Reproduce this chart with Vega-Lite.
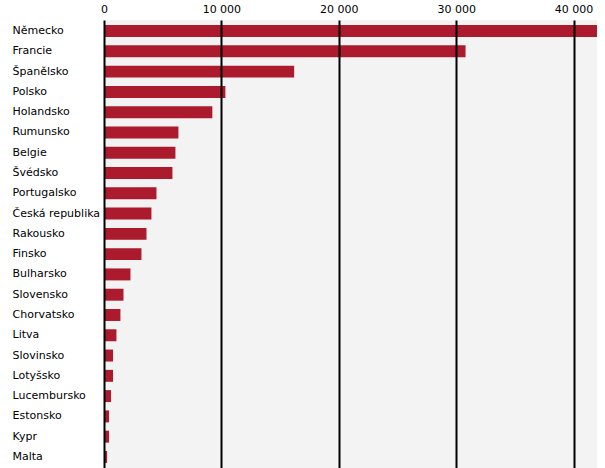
{
  "$schema": "https://vega.github.io/schema/vega-lite/v6.json",
  "width": 493,
  "height": 448,
  "autosize": {"type": "none"},
  "padding": {"left": 104, "top": 20, "right": 8, "bottom": 0},
  "background": "white",
  "config": {
    "view": {"fill": "#f3f3f3", "stroke": null},
    "font": "DejaVu Sans"
  },
  "data": {
    "values": [
      {"zeme": "Německo", "hodnota": 42000},
      {"zeme": "Francie", "hodnota": 30800},
      {"zeme": "Španělsko", "hodnota": 16200},
      {"zeme": "Polsko", "hodnota": 10340},
      {"zeme": "Holandsko", "hodnota": 9230},
      {"zeme": "Rumunsko", "hodnota": 6340},
      {"zeme": "Belgie", "hodnota": 6085},
      {"zeme": "Švédsko", "hodnota": 5830},
      {"zeme": "Portugalsko", "hodnota": 4470},
      {"zeme": "Česká republika", "hodnota": 4040},
      {"zeme": "Rakousko", "hodnota": 3620},
      {"zeme": "Finsko", "hodnota": 3190},
      {"zeme": "Bulharsko", "hodnota": 2255},
      {"zeme": "Slovensko", "hodnota": 1660},
      {"zeme": "Chorvatsko", "hodnota": 1400},
      {"zeme": "Litva", "hodnota": 1060},
      {"zeme": "Slovinsko", "hodnota": 770},
      {"zeme": "Lotyšsko", "hodnota": 770},
      {"zeme": "Lucembursko", "hodnota": 600},
      {"zeme": "Estonsko", "hodnota": 430},
      {"zeme": "Kypr", "hodnota": 430},
      {"zeme": "Malta", "hodnota": 260}
    ]
  },
  "mark": {"type": "bar", "color": "#ab1a2d", "clip": true},
  "encoding": {
    "y": {
      "field": "zeme",
      "type": "nominal",
      "sort": null,
      "scale": {"paddingInner": 0.41, "paddingOuter": 0.25},
      "axis": {
        "title": null,
        "domain": false,
        "ticks": false,
        "labelAlign": "left",
        "labelPadding": 92,
        "labelFontSize": 11,
        "labelColor": "#000000",
        "labelFont": "DejaVu Sans"
      }
    },
    "x": {
      "field": "hodnota",
      "type": "quantitative",
      "scale": {"domain": [0, 42000], "nice": false},
      "axis": {
        "orient": "top",
        "title": null,
        "values": [0, 10000, 20000, 30000, 40000],
        "labelExpr": "replace(format(datum.value, ','), ',', ' ')",
        "domain": false,
        "ticks": false,
        "grid": true,
        "gridColor": "#000000",
        "gridWidth": 2,
        "gridOpacity": 1,
        "labelPadding": 6,
        "labelFontSize": 11,
        "labelColor": "#000000",
        "labelFlush": false,
        "zindex": 1
      }
    }
  }
}
